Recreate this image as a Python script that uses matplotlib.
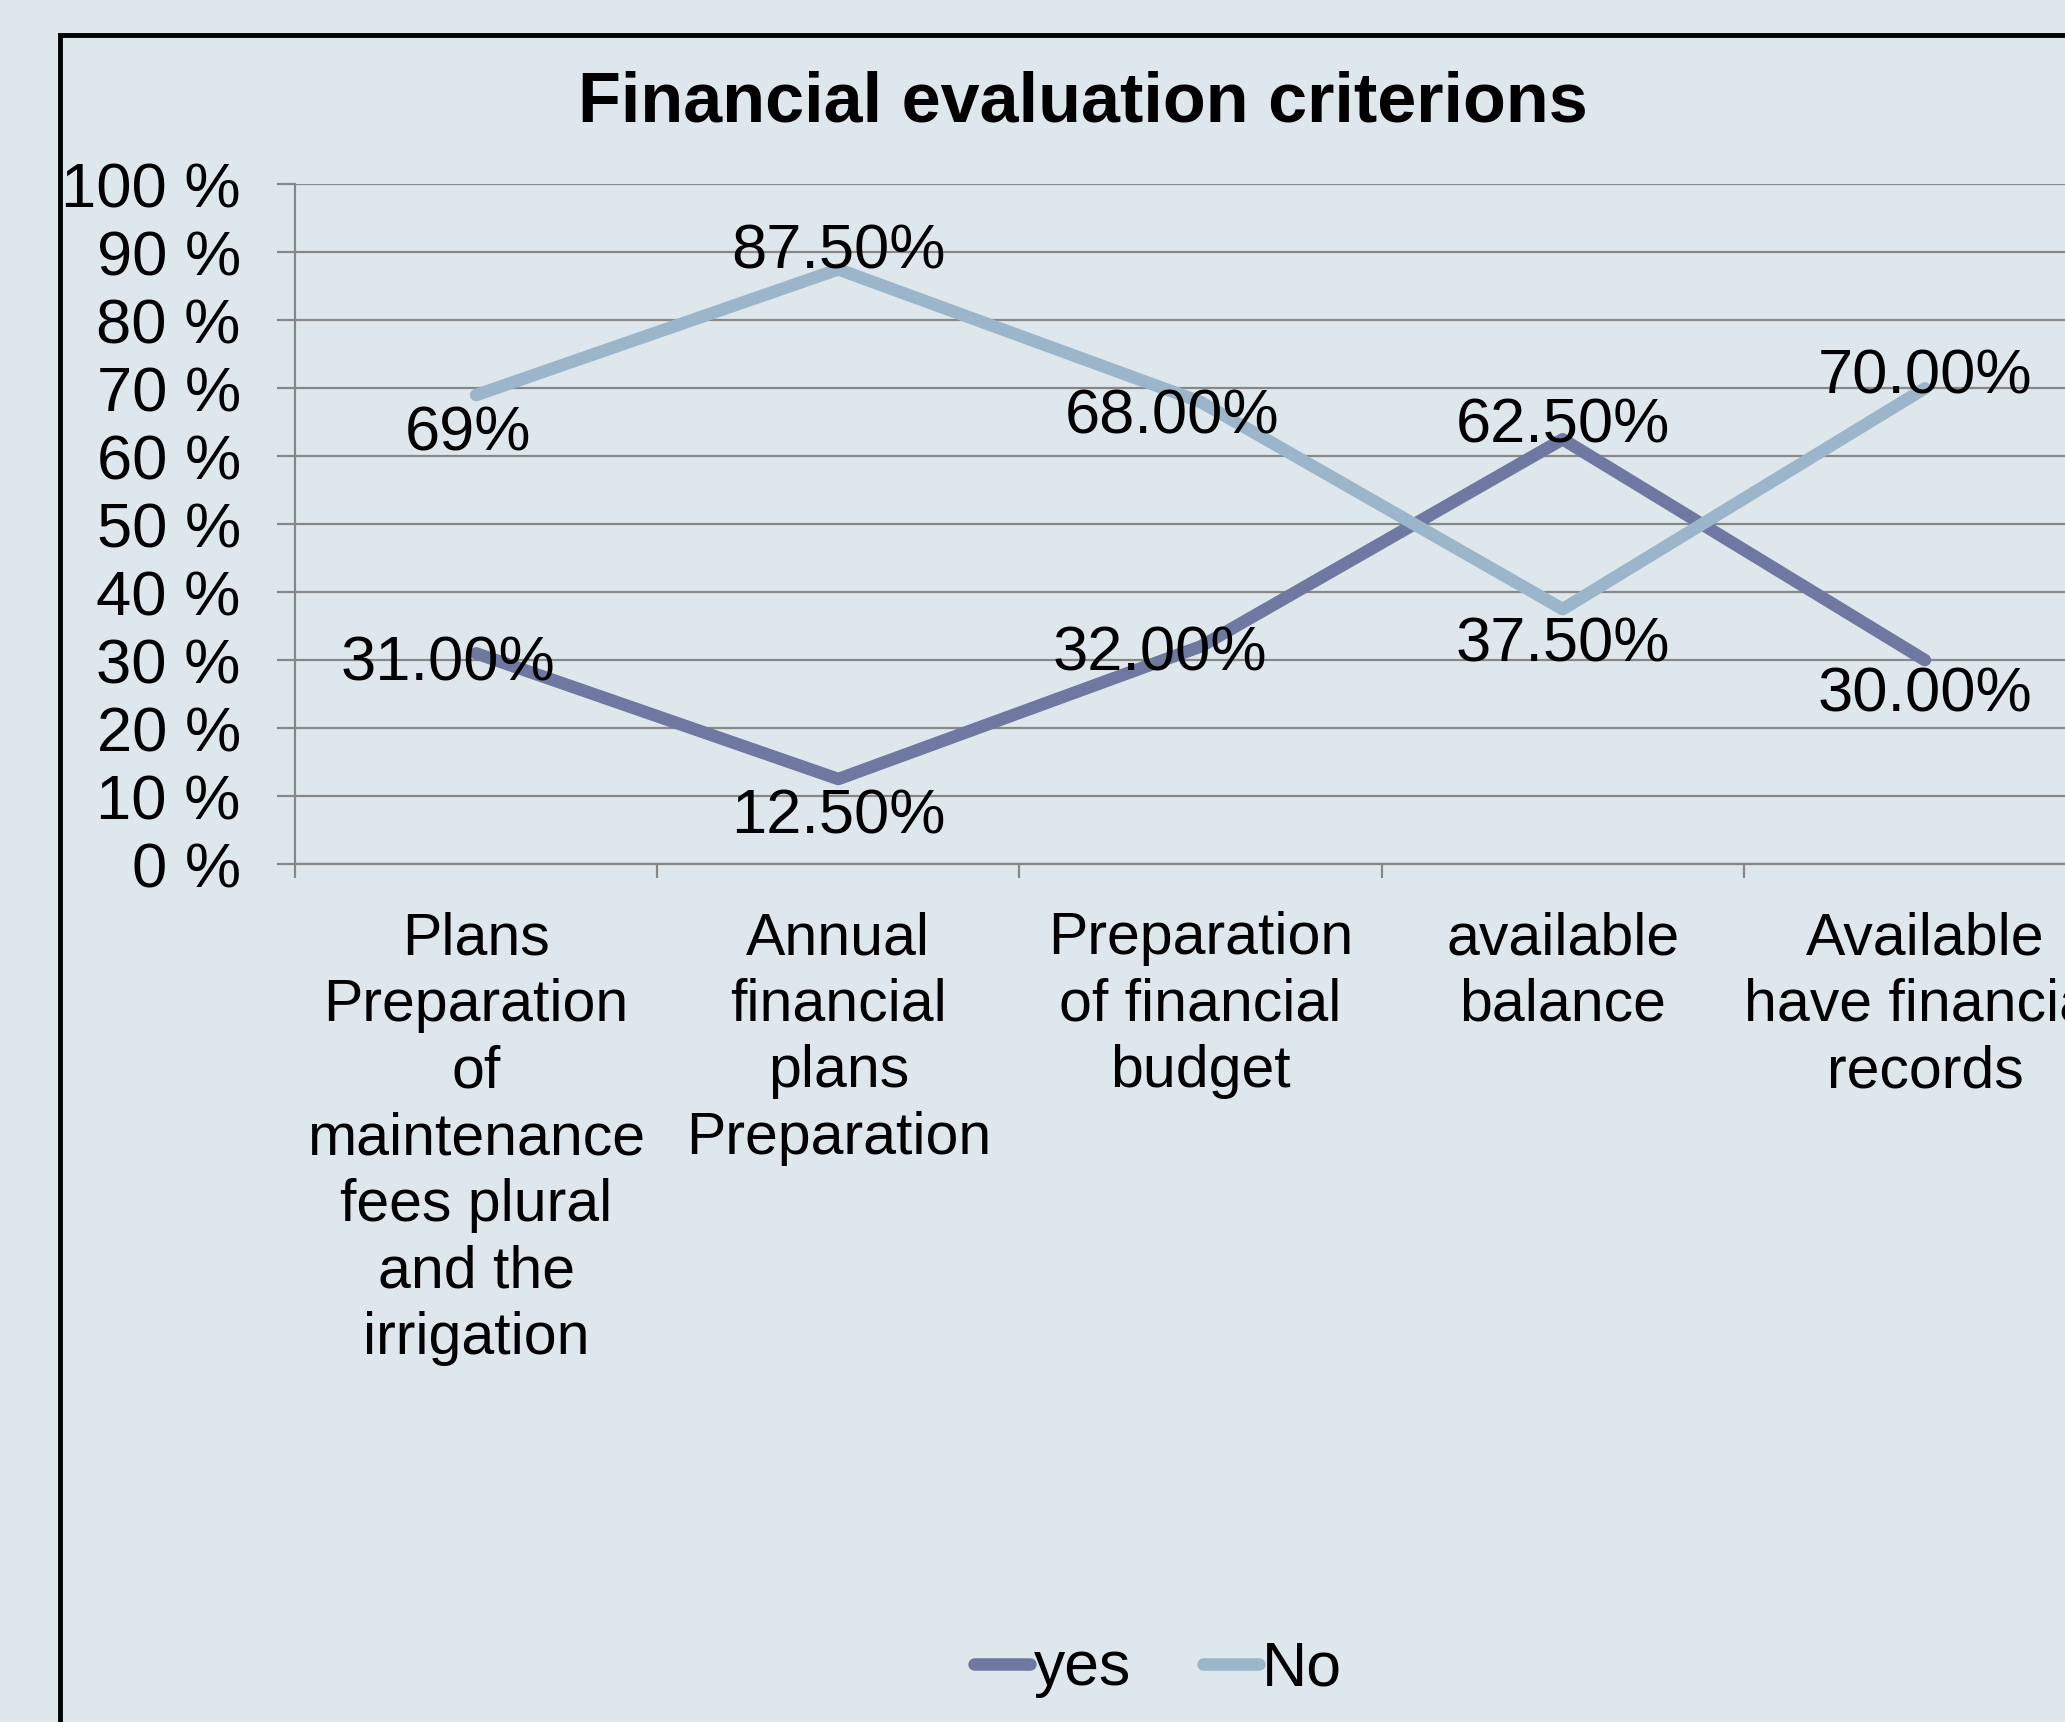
import matplotlib.pyplot as plt
from matplotlib.patches import Rectangle

plt.rcParams['font.family'] = ['Liberation Sans', 'DejaVu Sans']

categories = [
    "Plans\nPreparation\nof\nmaintenance\nfees plural\nand the\nirrigation",
    "Annual\nfinancial\nplans\nPreparation",
    "Preparation\nof financial\nbudget",
    "available\nbalance",
    "Available\nhave financial\nrecords",
]
yes_values = [31.0, 12.5, 32.0, 62.5, 30.0]
no_values = [69.0, 87.5, 68.0, 37.5, 70.0]
yes_labels = ["31.00%", "12.50%", "32.00%", "62.50%", "30.00%"]
no_labels = ["69%", "87.50%", "68.00%", "37.50%", "70.00%"]
y_ticks = [0, 10, 20, 30, 40, 50, 60, 70, 80, 90, 100]

# label offsets from the point, in pixels (dx, dy)
yes_offsets = [(-28, -11), (0, -38), (-41, -7), (0, 13), (0, -35)]
no_offsets = [(-8, -39), (0, 17), (-28, -15), (0, -36), (0, 11)]

bg = '#DEE8EC'
yes_color = '#6F78A0'
no_color = '#9BB5CA'
grid_color = '#878787'

fig = plt.figure(figsize=(20.65, 17.22), dpi=100, facecolor=bg)

# outer chart border (cropped on right and bottom)
fig.patches.append(Rectangle((60 / 2065, -0.1), 1.2, 1 - 35 / 1722 + 0.1,
                             transform=fig.transFigure, fill=False,
                             edgecolor='black', linewidth=3.5, clip_on=False))

ax = fig.add_axes([295 / 2065, 1 - 864 / 1722, 1811 / 2065, 679.6 / 1722])
ax.set_facecolor(bg)
x = range(len(categories))
ax.plot(x, yes_values, color=yes_color, linewidth=9, label='yes',
        solid_capstyle='round', solid_joinstyle='round', zorder=3)
ax.plot(x, no_values, color=no_color, linewidth=9, label='No',
        solid_capstyle='round', solid_joinstyle='round', zorder=3)

for i, (v, t, off) in enumerate(zip(yes_values, yes_labels, yes_offsets)):
    ax.annotate(t, (i, v), xytext=off, textcoords='offset pixels',
                ha='center', va='center', fontsize=45.5, zorder=4)
for i, (v, t, off) in enumerate(zip(no_values, no_labels, no_offsets)):
    ax.annotate(t, (i, v), xytext=off, textcoords='offset pixels',
                ha='center', va='center', fontsize=45.5, zorder=4)

ax.set_xlim(-0.5, 4.5)
ax.set_ylim(0, 100)
ax.set_yticks(y_ticks)
ax.set_yticklabels([f"{t} %" for t in y_ticks], fontsize=45.5)
ax.yaxis.grid(True, color=grid_color, linewidth=1.6)
ax.set_axisbelow(True)
ax.tick_params(axis='y', length=13, width=1.6, color=grid_color, pad=26)

ax.set_xticks(list(x))
ax.set_xticklabels(categories, fontsize=42.5, linespacing=1.27)
ax.set_xticks([i - 0.5 for i in range(len(categories) + 1)], minor=True)
ax.tick_params(axis='x', which='major', length=0, pad=34)
ax.tick_params(axis='x', which='minor', length=10, width=1.6,
               color=grid_color, direction='out')

for side in ['top', 'right']:
    ax.spines[side].set_visible(False)
for side in ['left', 'bottom']:
    ax.spines[side].set_color(grid_color)
    ax.spines[side].set_linewidth(1.6)

fig.text(1083 / 2065, 1 - 103 / 1722, "Financial evaluation criterions",
         ha='center', va='center', fontsize=50.5, fontweight='bold')

fig.legend(loc='center', bbox_to_anchor=(1158 / 2065, 53 / 1722), ncol=2,
           frameon=False, fontsize=45, handlelength=0.9, handletextpad=0.05,
           columnspacing=1.15)

fig.savefig('out.png', dpi=100, facecolor=bg)
